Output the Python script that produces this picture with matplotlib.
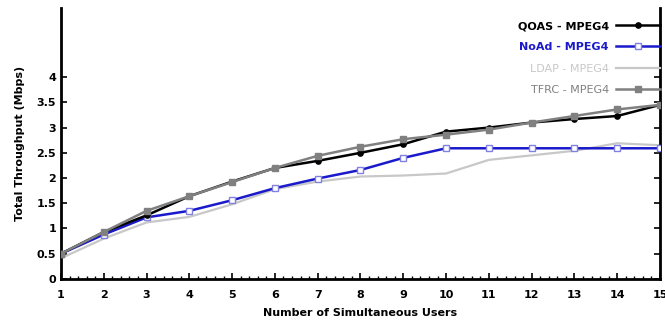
import matplotlib
matplotlib.use("Agg")
import matplotlib.pyplot as plt
from matplotlib.ticker import MultipleLocator

users = list(range(1, 16))
qoas = [0.5, 0.93, 1.26, 1.64, 1.93, 2.2, 2.34, 2.5, 2.67, 2.92, 3.0, 3.1, 3.17, 3.23, 3.45]
noad = [0.5, 0.88, 1.22, 1.35, 1.56, 1.8, 1.99, 2.16, 2.4, 2.59, 2.59, 2.59, 2.59, 2.59, 2.59]
ldap = [0.41, 0.8, 1.12, 1.23, 1.48, 1.78, 1.93, 2.03, 2.05, 2.09, 2.36, 2.45, 2.54, 2.69, 2.65]
tfrc = [0.5, 0.93, 1.35, 1.64, 1.92, 2.2, 2.44, 2.62, 2.77, 2.86, 2.96, 3.1, 3.23, 3.36, 3.45]
yticks = [0, 0.5, 1, 1.5, 2, 2.5, 3, 3.5, 4]
yticklabels = ["0", "0.5", "1", "1.5", "2", "2.5", "3", "3.5", "4"]

fig = plt.figure(figsize=(6.65, 3.21), dpi=100)
ax = fig.add_axes([0.0917, 0.131, 0.9008, 0.844])

ax.plot(users, qoas, color="black", lw=1.8, marker="o", ms=3.8, label="QOAS - MPEG4", zorder=4)
ax.plot(users, noad, color="#1a1acc", lw=1.8, marker="s", ms=5, mfc="white", mec="#8080e0", mew=1.0,
        label="NoAd - MPEG4", zorder=3)
ax.plot(users, ldap, color="#c8c8c8", lw=1.6, label="LDAP - MPEG4", zorder=2)
ax.plot(users, tfrc, color="#808080", lw=1.8, marker="s", ms=5, label="TFRC - MPEG4", zorder=5)

ax.set_xlim(1, 15)
ax.set_ylim(0, 5.37)
ax.set_xticks(users)
ax.xaxis.set_minor_locator(MultipleLocator(0.2))
ax.set_yticks(yticks)
ax.set_yticklabels(yticklabels)

for s in ["left", "bottom", "right"]:
    ax.spines[s].set_linewidth(2)
ax.spines["top"].set_visible(False)

ax.tick_params(axis="x", which="major", direction="in", length=4, width=1.2, labelsize=8, pad=8)
ax.tick_params(axis="x", which="minor", direction="in", length=2, width=1)
ax.tick_params(axis="y", which="major", direction="in", length=4, width=1.2, labelsize=8, right=True)
for lab in ax.get_xticklabels() + ax.get_yticklabels():
    lab.set_fontweight("bold")

ax.set_xlabel("Number of Simultaneous Users", fontsize=8, fontweight="bold", labelpad=6)
ax.set_ylabel("Total Throughput (Mbps)", fontsize=8, fontweight="bold", labelpad=8)

leg = ax.legend(loc="upper right", bbox_to_anchor=(1.0, 0.952), markerfirst=False, frameon=False,
                fontsize=8, handlelength=4, handletextpad=0.6, labelspacing=1.02,
                borderaxespad=0, borderpad=0)
colors = ["black", "#1a1acc", "#c8c8c8", "#808080"]
weights = ["bold", "bold", "normal", "normal"]
for t, c, w in zip(leg.get_texts(), colors, weights):
    t.set_color(c)
    t.set_fontweight(w)

fig.savefig("out.png", dpi=100)
